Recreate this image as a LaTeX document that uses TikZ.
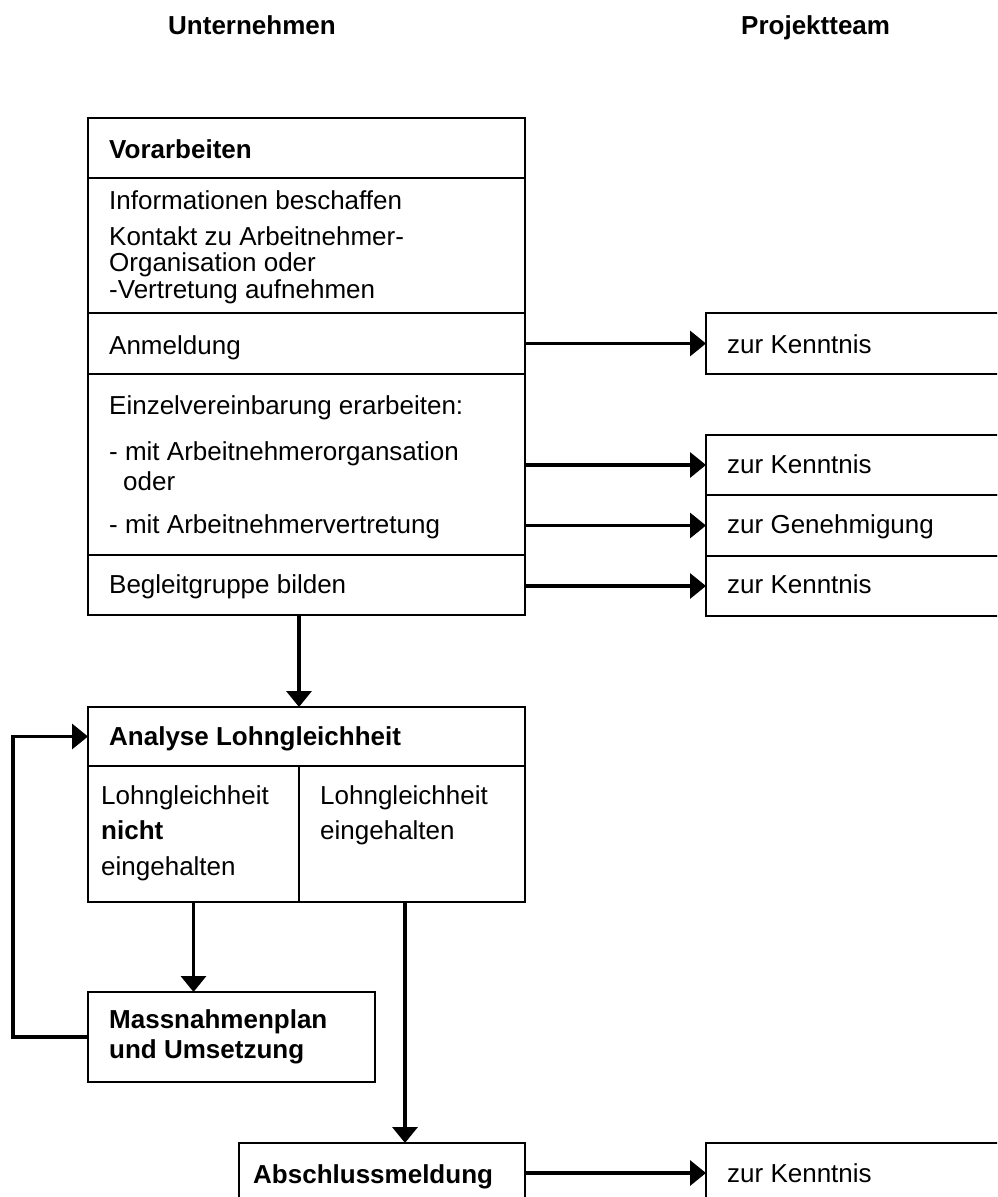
\documentclass[tikz,border=0pt]{standalone}
\usepackage{fontspec}
\setmainfont{Liberation Sans}
\usetikzlibrary{arrows.meta}
\newcommand{\bodyfont}{\fontsize{26}{26.5}\selectfont}
\begin{document}
\begin{tikzpicture}[
  x=1pt, y=-1pt,
  frame/.style={draw, line width=1.3pt, inner sep=0pt, outer sep=0pt, anchor=north west},
  txt/.style={anchor=base west, inner sep=0pt, align=left, font=\bodyfont},
  hd/.style={txt, font=\bodyfont\bfseries},
  arr/.style={line width=3.4pt, line join=miter, -{Triangle[length=16pt,width=25pt]}}
]
\useasboundingbox (0,0) rectangle (997,1197);
\clip (0,0) rectangle (997,1197);

% column headings
\node[hd] (hU) at (168,34) {Unternehmen};
\node[hd] (hP) at (741,34) {Projektteam};

% Vorarbeiten box
\node[frame, minimum width=437pt, minimum height=60pt]  (head) at (88,118) {};
\node[frame, minimum width=437pt, minimum height=135pt] (info) at (88,178) {};
\node[frame, minimum width=437pt, minimum height=61pt]  (anm)  at (88,313) {};
\node[frame, minimum width=437pt, minimum height=181pt] (einz) at (88,374) {};
\node[frame, minimum width=437pt, minimum height=60pt]  (begl) at (88,555) {};

% (multi-line texts are placed at the baseline of their last line)
\node[hd]  (tVor)  at (109,158) {Vorarbeiten};
\node[txt] (tInfo) at (109,209) {Informationen beschaffen};
\node[txt] (tKon)  at (109,298) {Kontakt zu Arbeitnehmer-\\Organisation oder\\-Vertretung aufnehmen};
\node[txt] (tAnm)  at (109,354) {Anmeldung};
\node[txt] (tEin)  at (109,414) {Einzelvereinbarung erarbeiten:};
\node[txt] (tOrg)  at (109,490) {- mit Arbeitnehmerorgansation\\[3.5pt]\hspace*{14pt}oder};
\node[txt] (tVer)  at (109,533) {- mit Arbeitnehmervertretung};
\node[txt] (tBeg)  at (109,593) {Begleitgruppe bilden};

% Projektteam boxes
\node[frame, minimum width=300pt, minimum height=61pt] (r1) at (706,313) {};
\node[frame, minimum width=300pt, minimum height=60pt] (r2) at (706,435) {};
\node[frame, minimum width=300pt, minimum height=61pt] (r3) at (706,495) {};
\node[frame, minimum width=300pt, minimum height=60pt] (r4) at (706,556) {};
\node[txt] (tr1) at (727,353) {zur Kenntnis};
\node[txt] (tr2) at (727,473) {zur Kenntnis};
\node[txt] (tr3) at (727,533) {zur Genehmigung};
\node[txt] (tr4) at (727,593) {zur Kenntnis};

% Analyse box
\node[frame, minimum width=437pt, minimum height=59pt]  (ana)   at (88,707) {};
\node[frame, minimum width=211pt, minimum height=136pt] (cellL) at (88,766) {};
\node[frame, minimum width=226pt, minimum height=136pt] (cellR) at (299,766) {};
\node[hd]  (tAna) at (109,745) {Analyse Lohngleichheit};
\node[txt] (tL)   at (101,875) {Lohngleichheit\\[9pt]\textbf{nicht}\\[9pt]eingehalten};
\node[txt] (tR)   at (320,839) {Lohngleichheit\\[8.5pt]eingehalten};

% Massnahmen box
\node[frame, minimum width=287pt, minimum height=90pt] (mass) at (88,992) {};
\node[hd] (tMass) at (109,1058) {Massnahmenplan\\[3.5pt]und Umsetzung};

% Abschluss
\node[frame, minimum width=286pt, minimum height=60pt] (absch) at (239,1143) {};
\node[hd] (tAbs) at (253,1183) {Abschlussmeldung};
\node[frame, minimum width=300pt, minimum height=60pt] (fin) at (706,1143) {};
\node[txt] (tFin) at (727,1182) {zur Kenntnis};

% connectors
\draw[arr] (anm.east) -- (r1.west);
\draw[arr] (einz.east |- r2.west) -- (r2.west);
\draw[arr] (einz.east |- r3.west) -- (r3.west);
\draw[arr] (begl.east |- r4.west) -- (r4.west);
\draw[arr] (begl.south -| cellL.east) -- (ana.north -| cellL.east);
\coordinate (loopx) at (13,0);
\draw[arr] (mass.west) -- (mass.west -| loopx) -- (ana.west -| loopx) -- (ana.west);
\draw[arr] (cellL.south) -- (cellL.south |- mass.north);
\coordinate (dR) at (405,902);
\draw[arr] (dR) -- (dR |- absch.north);
\draw[arr] (absch.east |- fin.west) -- (fin.west);
\end{tikzpicture}
\end{document}
